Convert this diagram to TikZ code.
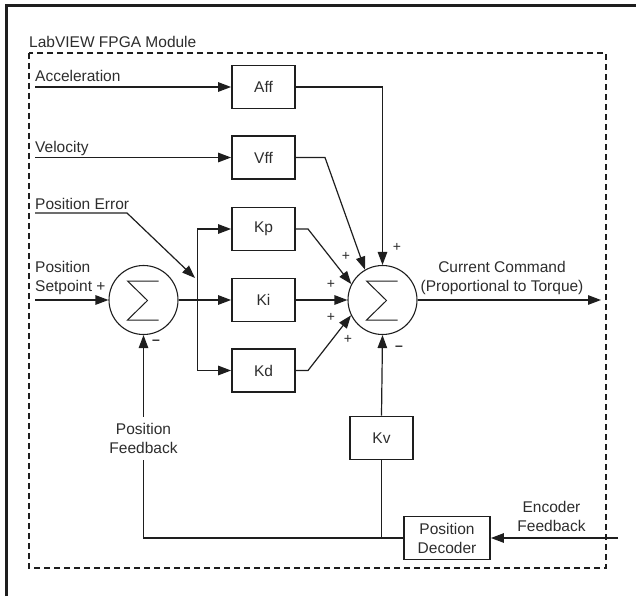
\documentclass[tikz,border=0pt]{standalone}
\usepackage{fontspec}
\setmainfont{Liberation Sans}
\usetikzlibrary{arrows.meta,calc}
\definecolor{txt}{RGB}{45,45,45}
\definecolor{ink}{RGB}{30,30,30}
\begin{document}
\begin{tikzpicture}[x=1pt,y=-1pt,
  every node/.style={font=\fontsize{15.5}{19}\selectfont, text=txt},
  blk/.style={draw=ink, line width=1.8pt, minimum width=63pt, minimum height=43pt, inner sep=0pt, align=center},
  sumnode/.style={draw=ink, circle, line width=1.1pt, minimum size=69pt, inner sep=0pt},
  wire/.style={draw=ink, line width=1.2pt},
  arr/.style={wire, -{Triangle[length=13pt,width=9.5pt]}},
  sgn/.style={font=\fontsize{14}{16}\selectfont, inner sep=0pt},
  lbl/.style={inner sep=0pt},
]
\useasboundingbox (0,0) rectangle (636,596);
% outer frame and module frame
\draw[ink, line width=3pt] (6.5,596) -- (6.5,5.5) -- (636,5.5);
\draw[wire, dash pattern=on 6pt off 4pt] (29,53) rectangle (606,568);
\node[lbl, anchor=base west] (title) at (29,48) {LabVIEW FPGA Module};

% blocks
\node[blk] (aff) at (263.5,87) {Aff};
\node[blk] (vff) at (263.5,157.5) {Vff};
\node[blk] (kp) at (263.5,229) {Kp};
\node[blk] (ki) at (263.5,300) {Ki};
\node[blk] (kd) at (263.5,370.5) {Kd};
\node[blk] (kv) at (381.5,438) {Kv};
\node[blk, minimum width=86pt] (dec) at (447,538) {Position\\Decoder};

% summing junctions
\node[sumnode] (sum1) at (143.5,300) {};
\node[sumnode] (sum2) at (382.5,300) {};
\foreach \s in {sum1,sum2}{
  \draw[ink, line width=1pt, line join=miter]
    ($(\s)+(15,-19)$) -- ($(\s)+(-16,-19)$) -- ($(\s)+(4,0.5)$)
    -- ($(\s)+(-16,20)$) -- ($(\s)+(15,20)$);
}

% input labels
\node[lbl, anchor=base west] (lacc) at (35,82) {Acceleration};
\node[lbl, anchor=base west] (lvel) at (35,152.5) {Velocity};
\node[lbl, anchor=base west] (lperr) at (35,209) {Position Error};
\node[lbl, anchor=west, align=left] (lsp) at (35,278) {Position\\Setpoint +};
\node[lbl, align=center] (lout) at (502,278) {Current Command\\(Proportional to Torque)};
\node[lbl, align=center] (lenc) at (551.5,516) {Encoder\\Feedback};

% free ends
\coordinate (accin) at (35,87);
\coordinate (velin) at (35,157.5);
\coordinate (perrin) at (35,213);
\coordinate (perrk) at (127,213);
\coordinate (perrtip) at (195,278);
\coordinate (spin) at (35,300);
\coordinate (br) at (197.5,300);
\coordinate (out) at (601,300);
\coordinate (encin) at (618,538);
\coordinate (vffk) at (325,157.5);
\coordinate (kpk) at (308,229);
\coordinate (kdk) at (308,370.5);

% feedforward inputs
\draw[arr] (accin) -- (aff.west);
\draw[arr] (velin) -- (vff.west);
\draw[arr] (perrin) -- (perrk) -- (perrtip);
\draw[arr] (spin) -- (sum1.west);

% error branch
\draw[arr] (sum1.east) -- (ki.west);
\draw[arr] (br) |- (kp.west);
\draw[arr] (br) |- (kd.west);

% into second sum
\draw[arr] (aff.east) -| (sum2.north);
\draw[arr] (vff.east) -- (vffk) -- (sum2.120);
\draw[arr] (kp.east) -- (kpk) -- (sum2.153);
\draw[arr] (ki.east) -- (sum2.west);
\draw[arr] (kd.east) -- (kdk) -- (sum2.206);
\draw[arr] (sum2.east) -- (out);

% feedback
\draw[arr] (encin) -- (dec.east);
\draw[wire] (kv.south) -- (kv.south |- dec.west);
\draw[arr] (kv.north) -- (sum2.south);
\draw[arr] (dec.west) -| (sum1.south);
\node[fill=white, inner xsep=2pt, inner ysep=6.5pt, align=center] (lfb) at (143.5,438.5) {Position\\Feedback};

% signs
\node[sgn] (p1) at (397,247) {+};
\node[sgn] (p2) at (346,256) {+};
\node[sgn] (p3) at (331,284) {+};
\node[sgn] (p4) at (331,317) {+};
\node[sgn] (p5) at (348,339) {+};
\node[sgn] (m2) at (399,348) {\textbf{–}};
\node[sgn] (m1) at (156,342) {\textbf{–}};
\end{tikzpicture}
\end{document}
